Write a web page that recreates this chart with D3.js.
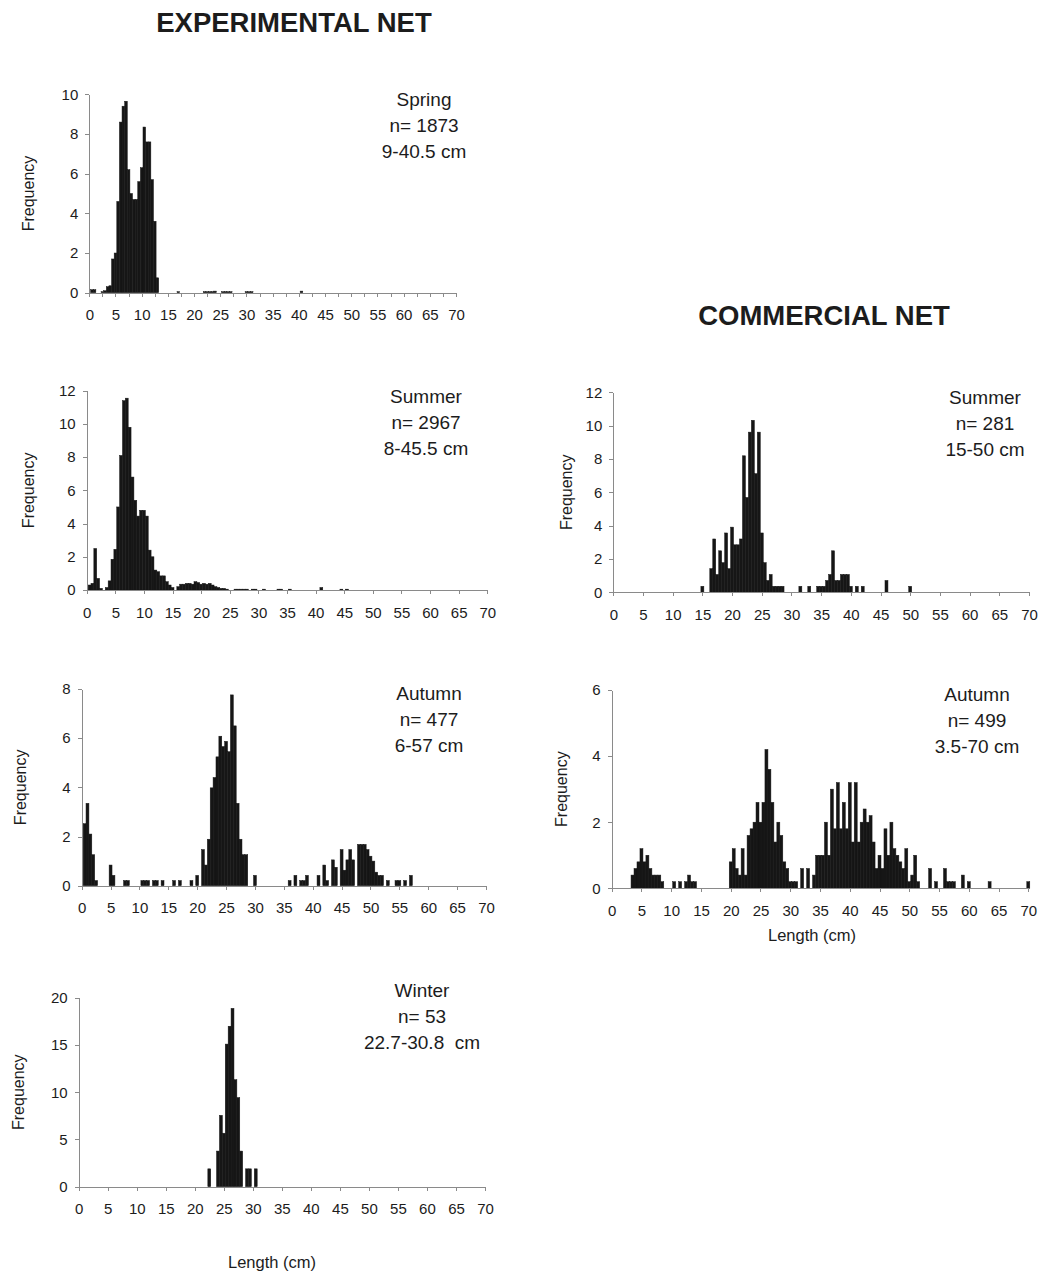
<!DOCTYPE html>
<html lang="en">
<head>
    <meta charset="UTF-8">
    <title>Length frequency by season and net</title>
    <script src="https://d3js.org/d3.v7.min.js"></script>
    <style>
        body, html {
            margin: 0;
            background-color: #ffffff;
        }

        svg text {
            font-family: 'Liberation Sans', Arial, sans-serif;
            fill: #1c1c1c;
        }

        .axis path, .axis line {
            stroke: #8a8a8a;
            shape-rendering: crispEdges;
        }
    </style>
</head>
<body>
<svg id="chart" width="1041" height="1271"></svg>

<script>
    // x axis tick labels, shared by every panel
    const xTicks = [0, 5, 10, 15, 20, 25, 30, 35, 40, 45, 50, 55, 60, 65, 70];

    // Experimental net - spring (bin centres in cm, frequency in %)
    const springLen = [0.5, 1, 2.5, 3, 3.5, 4, 4.5, 5, 5.5, 6, 6.5, 7, 7.5, 8, 8.5, 9, 9.5, 10, 10.5, 11, 11.5, 12, 12.5, 13,
        17, 22, 22.5, 23, 23.5, 24, 25.5, 26, 26.5, 27, 30, 30.5, 31, 40.5];
    const springFreq = [0.15, 0.15, 0.05, 0.1, 0.3, 0.35, 1.7, 2.0, 4.6, 8.6, 9.4, 9.65, 6.2, 5.0, 4.7, 4.7, 5.6, 6.3, 8.35, 7.6, 7.6, 5.7, 3.6, 0.75,
        0.05, 0.05, 0.05, 0.05, 0.05, 0.08, 0.05, 0.05, 0.05, 0.05, 0.05, 0.05, 0.05, 0.08];
    const springNote = ['Spring', 'n= 1873', '9-40.5 cm'];

    // Experimental net - summer
    const summerExpLen = [0.5, 1, 1.5, 2, 2.5, 3.5, 4, 4.5, 5, 5.5, 6, 6.5, 7, 7.5, 8, 8.5, 9, 9.5, 10, 10.5, 11, 11.5, 12, 12.5,
        13, 13.5, 14, 14.5, 15, 16, 16.5, 17, 17.5, 18, 18.5, 19, 19.5, 20, 20.5, 21, 21.5, 22, 22.5, 23, 23.5, 24, 24.5,
        26, 26.5, 27, 27.5, 28, 29, 29.5, 31, 33.5, 34, 35.5, 41, 44.5, 45.5];
    const summerExpFreq = [0.3, 0.4, 2.5, 0.7, 0.1, 0.15, 0.55, 1.85, 2.45, 5.0, 8.1, 11.4, 11.55, 9.8, 6.8, 5.4, 4.45, 4.8, 4.8, 4.45, 2.4, 2.0, 1.2, 1.1,
        0.85, 0.85, 0.5, 0.3, 0.15, 0.2, 0.35, 0.35, 0.4, 0.4, 0.35, 0.5, 0.45, 0.35, 0.4, 0.35, 0.4, 0.3, 0.2, 0.15, 0.1, 0.1, 0.05,
        0.05, 0.05, 0.05, 0.05, 0.05, 0.05, 0.05, 0.05, 0.05, 0.05, 0.05, 0.15, 0.05, 0.05];
    const summerExpNote = ['Summer', 'n= 2967', '8-45.5 cm'];

    // Experimental net - autumn
    const autumnExpLen = [0.5, 1, 1.5, 2, 2.5, 5, 5.5, 7.5, 8, 10.5, 11, 11.5, 12.5, 13, 14, 16, 17, 19, 20, 21, 21.5, 22, 22.5,
        23, 23.5, 24, 24.5, 25, 25.5, 26, 26.5, 27, 27.5, 28, 28.5, 30, 36, 37, 38, 38.5, 39, 41, 42, 42.5, 43.5, 44, 45,
        45.5, 46, 46.5, 47, 48, 48.5, 49, 49.5, 50, 50.5, 51, 51.5, 52, 53, 54.5, 55, 56, 57];
    const autumnExpFreq = [2.52, 3.35, 2.1, 1.26, 0.21, 0.84, 0.42, 0.21, 0.21, 0.21, 0.21, 0.21, 0.21, 0.21, 0.21, 0.21, 0.21, 0.21, 0.42, 1.47, 0.84, 1.89, 3.98,
        4.4, 5.24, 6.08, 5.66, 5.87, 5.45, 7.76, 6.5, 3.35, 1.89, 1.26, 1.26, 0.42, 0.21, 0.42, 0.21, 0.21, 0.42, 0.42, 0.84, 0.21, 1.05, 0.75, 1.47,
        0.63, 1.05, 1.47, 1.05, 1.68, 1.68, 1.68, 1.47, 1.2, 1.0, 0.55, 0.42, 0.42, 0.21, 0.21, 0.21, 0.21, 0.42];
    const autumnExpNote = ['Autumn', 'n= 477', '6-57 cm'];

    // Experimental net - winter
    const winterLen = [22.5, 24, 24.5, 25, 25.5, 26, 26.5, 27, 27.5, 28, 29, 29.5, 30.5];
    const winterFreq = [1.89, 3.77, 7.55, 5.66, 15.09, 16.98, 18.87, 11.32, 9.43, 3.77, 1.89, 1.89, 1.89];
    const winterNote = ['Winter', 'n= 53', '22.7-30.8  cm'];

    // Commercial net - summer
    const summerComLen = [15, 16.5, 17, 17.5, 18, 18.5, 19, 19.5, 20, 20.5, 21, 21.5, 22, 22.5, 23, 23.5, 24, 24.5, 25, 25.5,
        26, 26.5, 27, 27.5, 28, 28.5, 31.5, 33, 34.5, 35, 35.5, 36, 36.5, 37, 37.5, 38, 38.5, 39, 39.5, 40, 41, 42, 46, 50];
    const summerComFreq = [0.36, 1.42, 3.2, 1.07, 2.49, 1.78, 3.56, 1.42, 3.91, 2.85, 2.85, 3.2, 8.19, 5.69, 9.61, 10.32, 7.12, 9.61, 3.56, 1.78,
        0.71, 1.07, 0.36, 0.36, 0.36, 0.36, 0.36, 0.36, 0.36, 0.36, 0.36, 0.71, 1.07, 2.49, 0.71, 0.71, 1.07, 1.07, 1.07, 0.36, 0.36, 0.36, 0.71, 0.36];
    const summerComNote = ['Summer', 'n= 281', '15-50 cm'];

    // Commercial net - autumn
    const autumnComLen = [3.5, 4, 4.5, 5, 5.5, 6, 6.5, 7, 7.5, 8, 8.5, 10.5, 11.5, 12.5, 13, 13.5, 14, 20, 20.5, 21, 21.5, 22,
        22.5, 23, 23.5, 24, 24.5, 25, 25.5, 26, 26.5, 27, 27.5, 28, 28.5, 29, 29.5, 30, 30.5, 31, 32, 33, 34, 34.5, 35,
        35.5, 36, 36.5, 37, 37.5, 38, 38.5, 39, 39.5, 40, 40.5, 41, 41.5, 42, 42.5, 43, 43.5, 44, 44.5, 45, 45.5, 46,
        46.5, 47, 47.5, 48, 48.5, 49, 49.5, 50, 50.5, 51, 51.5, 53.5, 54.5, 56, 56.5, 57, 57.5, 59, 60, 63.5, 70];
    const autumnComFreq = [0.4, 0.6, 0.8, 1.2, 0.8, 1.0, 0.6, 0.4, 0.4, 0.4, 0.2, 0.2, 0.2, 0.2, 0.4, 0.2, 0.2, 0.8, 1.2, 0.6, 0.4, 1.2,
        0.4, 1.6, 1.8, 2.0, 2.6, 2.0, 2.6, 4.2, 3.6, 2.6, 1.4, 2.0, 1.6, 0.8, 0.6, 0.2, 0.2, 0.2, 0.6, 0.6, 0.4, 1.0, 1.0,
        1.0, 2.0, 1.0, 3.0, 1.8, 3.2, 1.8, 2.6, 1.8, 3.2, 1.4, 3.2, 1.4, 2.0, 2.4, 2.0, 2.2, 1.4, 0.6, 1.0, 0.6, 1.8,
        1.0, 2.0, 1.2, 1.0, 0.8, 0.6, 1.2, 0.2, 0.4, 1.0, 0.2, 0.6, 0.2, 0.6, 0.2, 0.2, 0.2, 0.4, 0.2, 0.2, 0.2];
    const autumnComNote = ['Autumn', 'n= 499', '3.5-70 cm'];

    const binWidth = 0.5;

    // Where each panel sits on the page (pixel positions of 0 and 70 cm, and of the y range)
    const panels = [
        { len: springLen, freq: springFreq, note: springNote, yTicks: [0, 2, 4, 6, 8, 10],
          x0: 89.3, x1: 456, yBase: 292.7, yTop: 94.3, labelX: 28, noteX: 424, noteY: 106, minorTicks: true },
        { len: summerExpLen, freq: summerExpFreq, note: summerExpNote, yTicks: [0, 2, 4, 6, 8, 10, 12],
          x0: 86.7, x1: 487.3, yBase: 590, yTop: 390.7, labelX: 28, noteX: 426, noteY: 403 },
        { len: autumnExpLen, freq: autumnExpFreq, note: autumnExpNote, yTicks: [0, 2, 4, 6, 8],
          x0: 81.7, x1: 486, yBase: 885.7, yTop: 689, labelX: 20, noteX: 429, noteY: 700 },
        { len: winterLen, freq: winterFreq, note: winterNote, yTicks: [0, 5, 10, 15, 20],
          x0: 78.7, x1: 485, yBase: 1186.7, yTop: 997.7, labelX: 18, noteX: 422, noteY: 997 },
        { len: summerComLen, freq: summerComFreq, note: summerComNote, yTicks: [0, 2, 4, 6, 8, 10, 12],
          x0: 613.3, x1: 1029, yBase: 592.3, yTop: 392.3, labelX: 566, noteX: 985, noteY: 404 },
        { len: autumnComLen, freq: autumnComFreq, note: autumnComNote, yTicks: [0, 2, 4, 6],
          x0: 611.7, x1: 1028.3, yBase: 888.3, yTop: 690, labelX: 561, noteX: 977, noteY: 701 }
    ];

    const svg = d3.select('#chart');

    svg.append('text')
        .attr('x', 294).attr('y', 32)
        .attr('text-anchor', 'middle')
        .style('font-size', '27.5px').style('font-weight', 'bold')
        .text('EXPERIMENTAL NET');

    svg.append('text')
        .attr('x', 824).attr('y', 325)
        .attr('text-anchor', 'middle')
        .style('font-size', '27.5px').style('font-weight', 'bold')
        .text('COMMERCIAL NET');

    panels.forEach(p => {
        const yMax = p.yTicks[p.yTicks.length - 1];
        const x = d3.scaleLinear().domain([0, 70]).range([p.x0, p.x1]);
        const y = d3.scaleLinear().domain([0, yMax]).range([p.yBase, p.yTop]);
        const g = svg.append('g');

        // bars (thin stroke of the same colour closes the seams between neighbours)
        g.selectAll('rect')
            .data(d3.zip(p.len, p.freq))
            .join('rect')
            .attr('x', d => x(d[0] - binWidth / 2))
            .attr('width', x(binWidth) - x(0))
            .attr('y', d => y(d[1]))
            .attr('height', d => Math.max(0.8, y(0) - y(d[1])))
            .attr('fill', '#161616')
            .attr('stroke', '#161616')
            .attr('stroke-width', 0.5);

        // x axis
        const xAxis = d3.axisBottom(x)
            .tickValues(p.minorTicks ? d3.range(0, 70.1, 2.5) : xTicks)
            .tickFormat(d => xTicks.includes(d) ? d : '')
            .tickSizeInner(4).tickSizeOuter(0).tickPadding(13);
        g.append('g')
            .attr('class', 'axis')
            .attr('transform', `translate(0,${p.yBase})`)
            .call(xAxis)
            .call(a => a.selectAll('text').style('font-size', '15px').attr('fill', '#1c1c1c'));

        // y axis
        const yAxis = d3.axisLeft(y)
            .tickValues(p.yTicks)
            .tickFormat(d3.format('d'))
            .tickSizeInner(4).tickSizeOuter(0).tickPadding(7);
        g.append('g')
            .attr('class', 'axis')
            .attr('transform', `translate(${p.x0},0)`)
            .call(yAxis)
            .call(a => a.selectAll('text').style('font-size', '15px').attr('fill', '#1c1c1c'));

        // y label
        const yMid = (p.yBase + p.yTop) / 2;
        g.append('text')
            .attr('transform', `translate(${p.labelX + 6},${yMid}) rotate(-90)`)
            .attr('text-anchor', 'middle')
            .style('font-size', '16px')
            .text('Frequency');

        // season / n / range note
        g.append('text')
            .attr('text-anchor', 'middle')
            .style('font-size', '19px')
            .style('white-space', 'pre')
            .selectAll('tspan')
            .data(p.note)
            .join('tspan')
            .attr('x', p.noteX)
            .attr('y', (d, i) => p.noteY + i * 26)
            .text(d => d);
    });

    svg.append('text')
        .attr('x', 812).attr('y', 941)
        .attr('text-anchor', 'middle')
        .style('font-size', '16.5px')
        .text('Length (cm)');

    svg.append('text')
        .attr('x', 272).attr('y', 1268)
        .attr('text-anchor', 'middle')
        .style('font-size', '16.5px')
        .text('Length (cm)');
</script>
</body>
</html>
